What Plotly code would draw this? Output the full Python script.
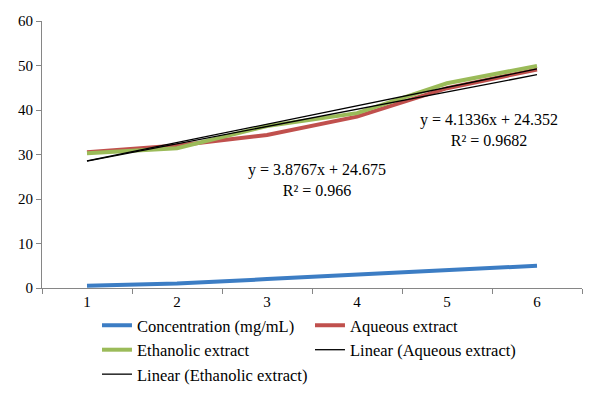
import numpy as np
import plotly.graph_objects as go

categories = ["1", "2", "3", "4", "5", "6"]
x_num = [1, 2, 3, 4, 5, 6]
concentration = [0.5, 1.0, 2.0, 3.0, 4.0, 5.0]
aqueous = [30.5, 32.0, 34.4, 38.5, 44.9, 49.1]
ethanolic = [30.3, 31.4, 36.4, 39.3, 46.0, 49.9]
y_ticks = [0, 10, 20, 30, 40, 50, 60]

FONT = "Liberation Serif"

fa = np.polyfit(x_num, aqueous, 1)
fe = np.polyfit(x_num, ethanolic, 1)
lin_a = list(np.polyval(fa, x_num))
lin_e = list(np.polyval(fe, x_num))

fig = go.Figure()
fig.add_trace(go.Scatter(x=categories, y=concentration, mode="lines", name="Concentration (mg/mL)",
                         line=dict(color="#3C7DC4", width=4)))
fig.add_trace(go.Scatter(x=categories, y=aqueous, mode="lines", name="Aqueous extract",
                         line=dict(color="#C0504D", width=4)))
fig.add_trace(go.Scatter(x=categories, y=ethanolic, mode="lines", name="Ethanolic extract",
                         line=dict(color="#9BBB59", width=4)))
fig.add_trace(go.Scatter(x=categories, y=lin_a, mode="lines", name="Linear (Aqueous extract)",
                         line=dict(color="black", width=1.3)))
fig.add_trace(go.Scatter(x=categories, y=lin_e, mode="lines", name="Linear (Ethanolic extract)",
                         line=dict(color="black", width=1.3)))

fig.add_annotation(x=4.47, y=35.6, xref="x", yref="y", showarrow=False,
                   text="y = 4.1336x + 24.352<br>R² = 0.9682",
                   font=dict(family=FONT, size=16, color="black"))
fig.add_annotation(x=2.56, y=24.3, xref="x", yref="y", showarrow=False,
                   text="y = 3.8767x + 24.675<br>R² = 0.966",
                   font=dict(family=FONT, size=16, color="black"))

fig.update_layout(
    width=599, height=404,
    margin=dict(l=42, r=17, t=21, b=116, autoexpand=False),
    paper_bgcolor="white", plot_bgcolor="white",
    font=dict(family=FONT, size=16, color="black"),
    showlegend=True,
    legend=dict(orientation="h", x=0.1018, y=-0.075, xanchor="left", yanchor="top",
                entrywidth=168, entrywidthmode="pixels",
                font=dict(family=FONT, size=16.5, color="black")),
)
fig.update_xaxes(type="category", showgrid=False, showline=True, linecolor="#868686", linewidth=1,
                 ticks="outside", tickson="boundaries", ticklen=5, tickcolor="#868686",
                 range=[-0.5, 5.5], tickfont=dict(family=FONT, size=15))
fig.update_yaxes(range=[0, 60], tickvals=y_ticks, showgrid=False, showline=True, linecolor="#868686",
                 linewidth=1, ticks="outside", ticklen=5, tickcolor="#868686", zeroline=False,
                 tickfont=dict(family=FONT, size=15))

fig.write_html("out.html", config={"displayModeBar": False},
               post_script="document.body.style.margin='0';document.body.style.overflow='hidden';")
